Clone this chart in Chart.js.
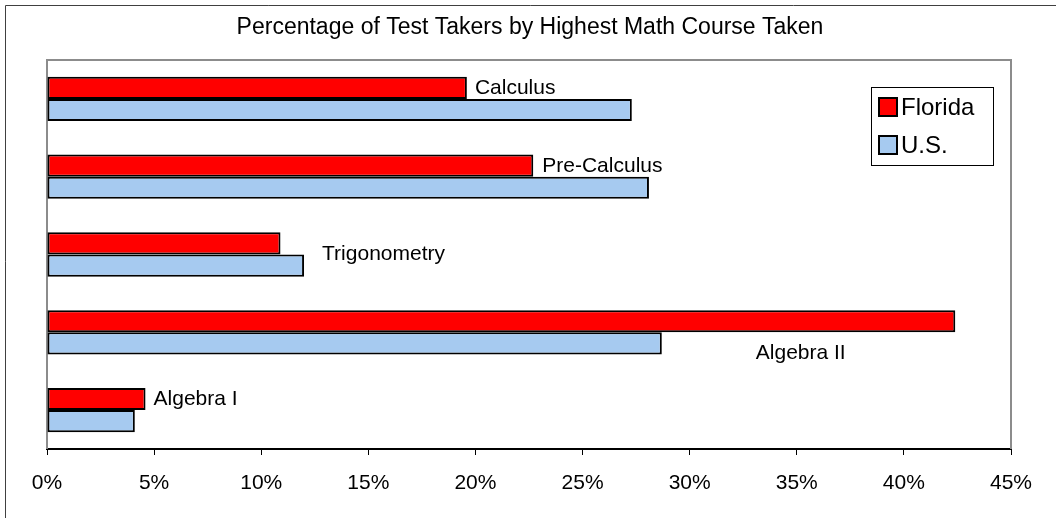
<!DOCTYPE html>
<html>
<head>
<meta charset="utf-8">
<script src="https://cdn.jsdelivr.net/npm/chart.js@4/dist/chart.umd.min.js"></script>
<style>
  html, body { margin: 0; padding: 0; background: #fff; }
  #c { display: block; }
</style>
</head>
<body>
<canvas id="c" width="1056" height="518"></canvas>
<script>
const chartTitle = 'Percentage of Test Takers by Highest Math Course Taken';
const categories = ['Calculus', 'Pre-Calculus', 'Trigonometry', 'Algebra II', 'Algebra I'];
const seriesNames = ['Florida', 'U.S.'];
const floridaValues = [19.6, 22.7, 10.9, 42.4, 4.6];
const usValues = [27.3, 28.1, 12.0, 28.7, 4.1];
const axisMin = 0;
const axisMax = 45;
const axisStep = 5;

const FONT = '"Liberation Sans", Arial, sans-serif';
const colors = ['#FF0000', '#A6CAF0'];

// label placement rules (style, not data)
const labelRules = [
  { ds: 0, dx: 8,  dyFromCat: -11 },
  { ds: 0, dx: 9,  dyFromCat: -10 },
  { ds: 1, dx: 18, dyFromCat: 0 },
  { ds: 1, dx: 94, dyFromCat: 21 },
  { ds: 0, dx: 8,  dyFromCat: -11 }
];

const decor = {
  id: 'decor',
  beforeDatasetsDraw(chart) {
    const ctx = chart.ctx, a = chart.chartArea;
    ctx.save();
    ctx.strokeStyle = '#404040';
    ctx.lineWidth = 1;
    ctx.beginPath();
    ctx.moveTo(5.5, 518); ctx.lineTo(5.5, 5.5); ctx.lineTo(1056, 5.5);
    ctx.stroke();
    ctx.strokeStyle = '#8c8c8c';
    ctx.lineWidth = 2;
    ctx.beginPath();
    ctx.moveTo(a.left, a.bottom); ctx.lineTo(a.left, a.top);
    ctx.lineTo(a.right, a.top); ctx.lineTo(a.right, a.bottom);
    ctx.stroke();
    ctx.fillStyle = '#000';
    ctx.font = '23px ' + FONT;
    ctx.textAlign = 'center';
    ctx.textBaseline = 'middle';
    ctx.fillText(chartTitle, 530, 28);
    ctx.restore();
  },
  afterDatasetsDraw(chart) {
    const ctx = chart.ctx;
    const yScale = chart.scales.y;
    ctx.save();
    ctx.fillStyle = '#000';
    ctx.font = '21px ' + FONT;
    ctx.textAlign = 'left';
    ctx.textBaseline = 'middle';
    categories.forEach((cat, i) => {
      const r = labelRules[i];
      const bar = chart.getDatasetMeta(r.ds).data[i];
      const cy = yScale.getPixelForValue(i);
      ctx.fillText(cat, bar.x + r.dx, cy + r.dyFromCat);
    });
    const lx = 871, ly = 87, lw = 122, lh = 78;
    ctx.fillStyle = '#fff';
    ctx.fillRect(lx, ly, lw, lh);
    ctx.strokeStyle = '#000';
    ctx.lineWidth = 1;
    ctx.strokeRect(lx + 0.5, ly + 0.5, lw, lh);
    ctx.font = '24px ' + FONT;
    chart.data.datasets.forEach((ds, k) => {
      const sy = ly + 11 + k * 38;
      ctx.fillStyle = ds.backgroundColor;
      ctx.fillRect(lx + 8, sy, 18, 18);
      ctx.strokeStyle = '#000';
      ctx.lineWidth = 2;
      ctx.strokeRect(lx + 8, sy, 18, 18);
      ctx.fillStyle = '#000';
      ctx.textBaseline = 'middle';
      ctx.fillText(ds.label, lx + 30, sy + 10);
    });
    ctx.restore();
  }
};

new Chart(document.getElementById('c'), {
  type: 'bar',
  data: {
    labels: categories,
    datasets: [
      { label: seriesNames[0], data: floridaValues, backgroundColor: colors[0], borderColor: '#000', borderWidth: 2, borderSkipped: false },
      { label: seriesNames[1], data: usValues, backgroundColor: colors[1], borderColor: '#000', borderWidth: 2, borderSkipped: false }
    ]
  },
  options: {
    indexAxis: 'y',
    responsive: false,
    animation: false,
    devicePixelRatio: 1,
    layout: { padding: { left: 47, right: 45, top: 60, bottom: 0 } },
    datasets: { bar: { categoryPercentage: 0.57, barPercentage: 1.0 } },
    plugins: { legend: { display: false }, title: { display: false }, tooltip: { enabled: false } },
    scales: {
      x: {
        type: 'linear',
        min: axisMin, max: axisMax,
        ticks: {
          stepSize: axisStep,
          color: '#000',
          font: { family: FONT, size: 21 },
          padding: 16,
          maxRotation: 0,
          callback: v => v + '%'
        },
        grid: { drawOnChartArea: false, drawTicks: true, tickLength: 6, color: '#000', lineWidth: 1 },
        border: { display: true, color: '#000', width: 2 },
        afterFit: s => { s.height = 69; }
      },
      y: { display: false, type: 'category' }
    }
  },
  plugins: [decor]
});
</script>
</body>
</html>
